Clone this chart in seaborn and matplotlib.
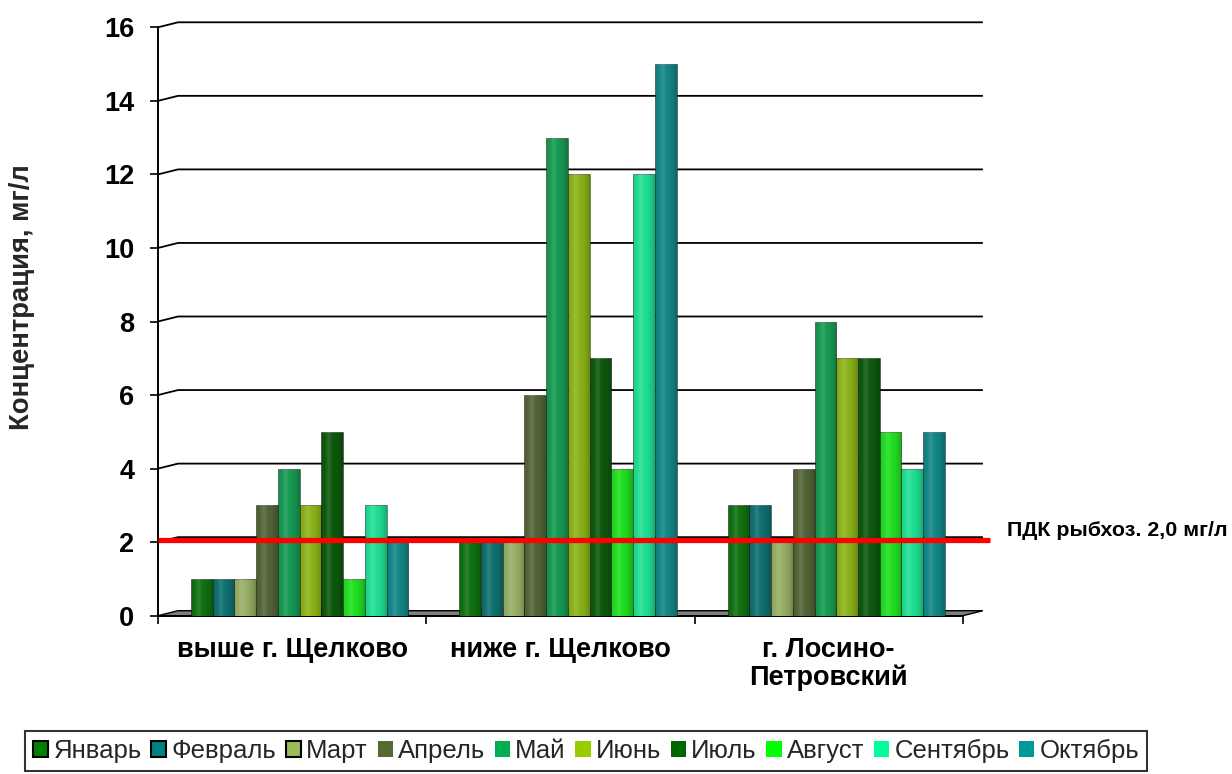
import numpy as np
import pandas as pd
import matplotlib
matplotlib.use("Agg")
import matplotlib.pyplot as plt
from matplotlib.patches import Patch, Polygon
import seaborn as sns

# ---- data -------------------------------------------------------------
sites = ["выше г. Щелково", "ниже г. Щелково", "г. Лосино-\nПетровский"]
months = ["Январь", "Февраль", "Март", "Апрель", "Май",
          "Июнь", "Июль", "Август", "Сентябрь", "Октябрь"]
above_schelkovo = [1, 1, 1, 3, 4, 3, 5, 1, 3, 2]
below_schelkovo = [2, 2, 2, 6, 13, 12, 7, 4, 12, 15]
losino_petrovsky = [3, 3, 2, 4, 8, 7, 7, 5, 4, 5]
mpc_limit = 2.0
mpc_label = "ПДК рыбхоз. 2,0 мг/л"
y_label = "Концентрация, мг/л"
y_ticks = [0, 2, 4, 6, 8, 10, 12, 14, 16]

colors = ["#008000", "#008080", "#9BBB59", "#566B2F", "#00B050",
          "#99CC00", "#006600", "#00FF00", "#00FF99", "#009999"]

df = pd.DataFrame({
    "site": np.repeat(sites, len(months)),
    "month": months * len(sites),
    "value": above_schelkovo + below_schelkovo + losino_petrovsky,
})

# ---- style ------------------------------------------------------------
sns.set_theme(style="white")
plt.rcParams["font.family"] = ["Liberation Sans", "DejaVu Sans"]

W, H = 1232, 774
fig = plt.figure(figsize=(W / 100, H / 100), dpi=100)

# plot area in pixels (front face)
ax_left, ax_right, ax_top, ax_bottom = 158, 983, 27.3, 615.7
ax = fig.add_axes([ax_left / W, 1 - ax_bottom / H,
                   (ax_right - ax_left) / W, (ax_bottom - ax_top) / H])

px_per_cat = 268.3
xmin = -0.5
xmax = xmin + (ax_right - ax_left) / px_per_cat
ymin, ymax = 0, 16
px_per_unit = (ax_bottom - ax_top) / (ymax - ymin)

# depth offset of the back wall (3-D look)
dx = 20 / px_per_cat
dy = 5 / px_per_unit

sns.barplot(data=df, x="site", y="value", hue="month", hue_order=months,
            palette=colors, width=0.81, gap=0, dodge=True, ax=ax,
            edgecolor=(0, 0, 0, 0.4), linewidth=0.7, zorder=3,
            legend=False, errorbar=None)

# push bars a little into the depth and give them a soft cylinder shading
shift = 7.5 / px_per_cat
cols = 64
t = np.linspace(0, 1, cols)
shade = np.zeros((1, cols, 4))
dark = 0.24 * np.abs(t - 0.4) ** 2.4 / (0.6 ** 2.4)
light = 0.12 * np.exp(-((t - 0.35) / 0.12) ** 2)
shade[0, :, :3] = (light / (light + dark + 1e-9))[:, None]
shade[0, :, 3] = np.clip(dark + light, 0, 1)
for p in list(ax.patches):
    p.set_x(p.get_x() + shift)
    x0, w, h = p.get_x(), p.get_width(), p.get_height()
    if h <= 0:
        continue
    im = ax.imshow(shade, extent=[x0, x0 + w, 0, h], aspect="auto",
                   zorder=3.1, interpolation="bilinear")
    im.set_clip_path(p)

# back-wall gridlines with slanted connectors to the axis
for v in y_ticks[1:]:
    ax.plot([xmin, xmin + dx, 2.5 + dx], [v, v + dy, v + dy],
            color="black", lw=1.3, zorder=1, clip_on=False,
            solid_capstyle="butt")

# floor
floor = Polygon([(xmin, 0), (2.5, 0), (2.5 + dx, dy), (xmin + dx, dy)],
                closed=True, facecolor="#7f7f7f", edgecolor="black",
                lw=1.0, zorder=2, clip_on=False)
ax.add_patch(floor)

# threshold line
ax.plot([xmin, 2.5 + 27 / px_per_cat], [mpc_limit + 0.06] * 2,
        color="#FF0000", lw=3.8, zorder=5, clip_on=False,
        solid_capstyle="butt")
fig.text(1007 / W, 1 - 530 / H, mpc_label, ha="left", va="center",
         fontsize=15.4, fontweight="bold", color="black")

# axes, ticks and labels
ax.set_xlim(xmin, xmax)
ax.set_ylim(ymin, ymax)
ax.set_yticks(y_ticks)
ax.set_yticklabels([str(v) for v in y_ticks], fontsize=19.5, fontweight="bold")
ax.set_xticks(range(len(sites)))
ax.set_xticklabels(sites, fontsize=19.5, fontweight="bold", linespacing=1.1)
ax.set_xticks([-0.5, 0.5, 1.5, 2.5], minor=True)
ax.tick_params(axis="x", which="major", length=0, pad=15, colors="black")
ax.tick_params(axis="x", which="minor", length=6, width=1.2, direction="out",
               bottom=True, color="black")
ax.tick_params(axis="y", length=6, width=1.2, direction="out", left=True,
               pad=11, colors="black")
ax.set_xlabel("")
ax.set_ylabel("")
ax.grid(False)
for s in ["top", "right"]:
    ax.spines[s].set_visible(False)
ax.spines["left"].set_color("black")
ax.spines["left"].set_linewidth(1.4)
ax.spines["bottom"].set_color("black")
ax.spines["bottom"].set_linewidth(1.4)
ax.spines["bottom"].set_bounds(-0.5, 2.5)
ax.set_facecolor("none")

fig.text(22 / W, 1 - 297 / H, y_label, rotation=90, ha="center", va="center",
         fontsize=19.8, fontweight="bold")

# legend
handles = []
for i, (m, c) in enumerate(zip(months, colors)):
    if i < 3:
        handles.append(Patch(facecolor=c, edgecolor="black", linewidth=1.5, label=m))
    else:
        handles.append(Patch(facecolor=c, edgecolor="none", label=m))
leg = fig.legend(handles=handles, loc="center", ncol=len(months),
                 bbox_to_anchor=(586 / W, 1 - 751 / H), fontsize=18.5,
                 frameon=True, fancybox=False, edgecolor="black",
                 handlelength=0.6, handleheight=0.6, handletextpad=0.2,
                 columnspacing=0.37, borderpad=0.3, borderaxespad=0)
leg.get_frame().set_linewidth(1.5)

fig.savefig("out.png", dpi=100, facecolor="white")
